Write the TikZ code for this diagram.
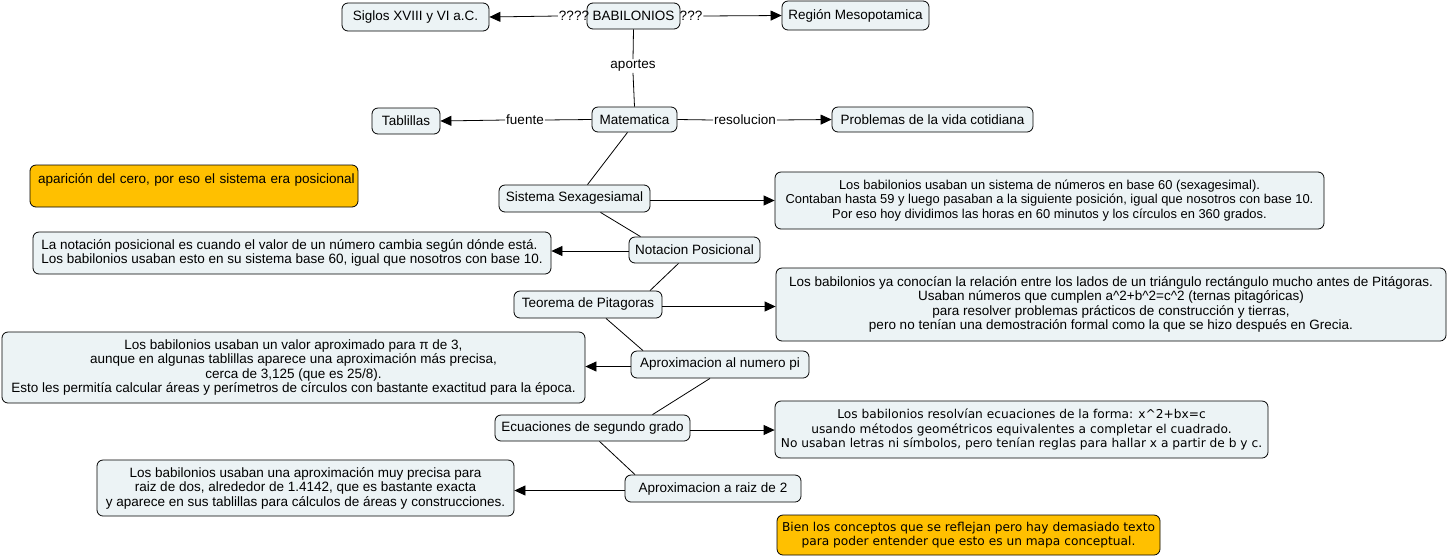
\documentclass[tikz,border=0pt]{standalone}
\usepackage{fontspec}
\setmainfont{Liberation Sans}
\newfontfamily\verd{DejaVu Sans}
\usetikzlibrary{arrows.meta}
\definecolor{boxblue}{RGB}{236,243,245}
\definecolor{boxorange}{RGB}{255,192,0}
\tikzset{
  cbox/.style={draw=black, fill=boxblue, rounded corners=6pt, line width=0.8pt, inner sep=0pt, align=center,
    font=\fontsize{13.5pt}{14.5pt}\selectfont},
  obox/.style={cbox, fill=boxorange},
  vfont/.style={font=\verd\fontsize{12.2pt}{14.5pt}\selectfont},
  lbl/.style={inner sep=1pt, font=\fontsize{13.5pt}{14.5pt}\selectfont},
  conn/.style={line width=0.8pt},
  arr/.style={conn, -{Triangle[length=11pt,width=10pt]}}
}
\begin{document}
\begin{tikzpicture}[x=1pt,y=-1pt]
\useasboundingbox (0,0) rectangle (1448,558);
% nodes
\node[cbox,minimum width=93pt,minimum height=26pt] (bab) at (633.5,16) {BABILONIOS};
\node[cbox,minimum width=147pt,minimum height=28pt] (sig) at (415.5,17) {Siglos XVIII y VI a.C.};
\node[cbox,minimum width=147pt,minimum height=29pt] (reg) at (855.5,15.5) {Región Mesopotamica};
\node[cbox,minimum width=85pt,minimum height=25pt] (mat) at (634.5,119.5) {Matematica};
\node[cbox,minimum width=68pt,minimum height=26pt] (tab) at (406,121) {Tablillas};
\node[cbox,minimum width=201pt,minimum height=25pt] (prob) at (932.5,119.5) {Problemas de la vida cotidiana};
\node[obox,minimum height=42pt,text width=312pt,inner xsep=8pt,align=left] (cero) at (194,186) {\makebox[312pt][l]{aparición del cero, por eso el sistema era posicional}\\ \mbox{}};
\node[cbox,minimum width=151pt,minimum height=27pt] (sis) at (574.5,198.5) {Sistema Sexagesiamal};
\node[cbox,minimum width=549pt,minimum height=57pt,font=\fontsize{12.9pt}{14.5pt}\selectfont] (sdesc) at (1049.5,200.5) {Los babilonios usaban un sistema de números en base 60 (sexagesimal).\\Contaban hasta 59 y luego pasaban a la siguiente posición, igual que nosotros con base 10.\\Por eso hoy dividimos las horas en 60 minutos y los círculos en 360 grados.};
\node[cbox,minimum width=131pt,minimum height=26pt] (np) at (694.5,250) {Notacion Posicional};
\node[cbox,minimum width=518pt,minimum height=42pt,align=left] (ndesc) at (292,253) {La notación posicional es cuando el valor de un número cambia según dónde está.\\Los babilonios usaban esto en su sistema base 60, igual que nosotros con base 10.};
\node[cbox,minimum width=148pt,minimum height=27pt] (tp) at (588,304.5) {Teorema de Pitagoras};
\node[cbox,minimum width=670pt,minimum height=73pt] (pdesc) at (1111,304.5) {Los babilonios ya conocían la relación entre los lados de un triángulo rectángulo mucho antes de Pitágoras.\\Usaban números que cumplen a\^{}2+b\^{}2=c\^{}2 (ternas pitagóricas)\\para resolver problemas prácticos de construcción y tierras,\\pero no tenían una demostración formal como la que se hizo después en Grecia.};
\node[cbox,minimum width=178pt,minimum height=27pt] (pi) at (720,364.5) {Aproximacion al numero pi};
\node[cbox,minimum width=583pt,minimum height=71pt] (pidesc) at (293.5,367.5) {Los babilonios usaban un valor aproximado para π de 3,\\aunque en algunas tablillas aparece una aproximación más precisa,\\cerca de 3,125 (que es 25/8).\\Esto les permitía calcular áreas y perímetros de círculos con bastante exactitud para la época.};
\node[cbox,minimum width=195pt,minimum height=26pt] (ec) at (592.5,428) {Ecuaciones de segundo grado};
\node[cbox,minimum width=493pt,minimum height=57pt,vfont] (ecdesc) at (1021.5,429.5) {Los babilonios resolvían ecuaciones de la forma: x\^{}2+bx=c\\usando métodos geométricos equivalentes a completar el cuadrado.\\No usaban letras ni símbolos, pero tenían reglas para hallar x a partir de b y c.};
\node[cbox,minimum width=176pt,minimum height=27pt] (rz) at (713,488.5) {Aproximacion a raiz de 2};
\node[cbox,minimum width=417pt,minimum height=56pt] (rdesc) at (305.5,488) {Los babilonios usaban una aproximación muy precisa para\\raiz de dos, alrededor de 1.4142, que es bastante exacta\\y aparece en sus tablillas para cálculos de áreas y construcciones.};
\node[obox,minimum width=383pt,minimum height=40pt,vfont] (nota) at (968.5,535) {Bien los conceptos que se reflejan pero hay demasiado texto\\para poder entender que esto es un mapa conceptual.};
% labels
\node[lbl] (q4) at (574,16) {????};
\node[lbl] (q3) at (691,16) {???};
\node[lbl] (ap) at (633,66) {aportes};
\node[lbl] (fu) at (525,120) {fuente};
\node[lbl] (res) at (745,120) {resolucion};
% connectors
\draw[arr] (q4.west) -- (sig.east);
\draw[arr] (q3.east) -- (reg.west);
\draw[conn] (bab.south) -- (ap.north);
\draw[conn] (ap.south) -- (mat.north);
\draw[conn] (mat.west) -- (fu.east);
\draw[arr] (fu.west) -- (tab.east);
\draw[conn] (mat.east) -- (res.west);
\draw[arr] (res.east) -- (prob.west);
\draw[conn] ([xshift=-7pt]mat.south) -- ([xshift=13pt]sis.north);
\draw[arr] ([yshift=-2pt]sis.east) -- ([yshift=-2pt]sis.east -| sdesc.west);
\draw[conn] ([xshift=26pt]sis.south) -- ([xshift=-54pt]np.north);
\draw[arr] ([yshift=-1pt]np.west) -- ([yshift=-1pt]np.west -| ndesc.east);
\draw[conn] ([xshift=-16pt]np.south) -- ([xshift=62pt]tp.north);
\draw[arr] ([yshift=-2pt]tp.east) -- ([yshift=-2pt]tp.east -| pdesc.west);
\draw[conn] ([xshift=18pt]tp.south) -- ([xshift=-77pt]pi.north);
\draw[arr] ([yshift=-2pt]pi.west) -- ([yshift=-2pt]pi.west -| pidesc.east);
\draw[conn] ([xshift=-10pt]pi.south) -- ([xshift=60pt]ec.north);
\draw[arr] ([yshift=-2pt]ec.east) -- ([yshift=-2pt]ec.east -| ecdesc.west);
\draw[conn] ([xshift=7pt]ec.south) -- ([xshift=-78pt]rz.north);
\draw[arr] ([yshift=-2pt]rz.west) -- ([yshift=-2pt]rz.west -| rdesc.east);
\end{tikzpicture}
\end{document}
